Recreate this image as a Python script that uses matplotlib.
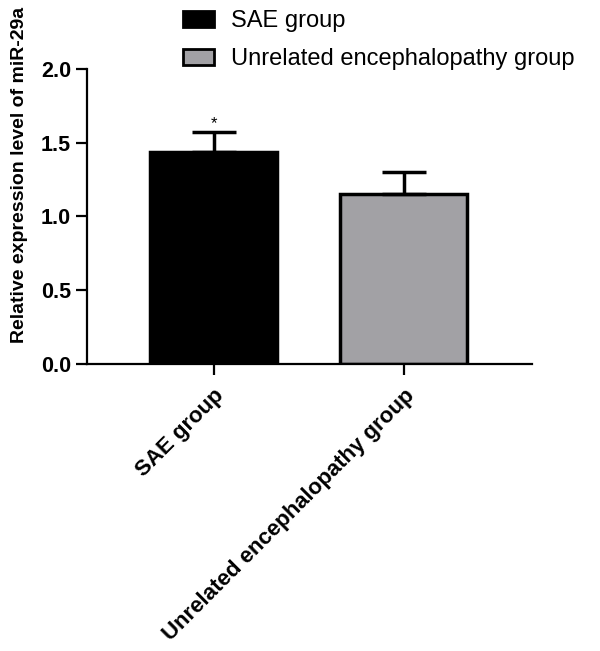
import matplotlib
matplotlib.use("Agg")
import matplotlib.pyplot as plt
from matplotlib.patches import Patch

plt.rcParams['font.family'] = ['Liberation Sans', 'DejaVu Sans']

# data
groups = ['SAE group', 'Unrelated encephalopathy group']
means = [1.44, 1.15]
errors = [0.135, 0.15]
colors = ['#000000', '#a2a1a5']

fig = plt.figure(figsize=(6.0, 6.51), dpi=100)
ax = fig.add_axes([0.145, 0.441, 0.742, 0.453])

x = [0, 1]
ax.bar(x, means, width=0.67, color=colors, edgecolor='black', linewidth=2.5,
       yerr=[[0, 0], errors], zorder=2,
       error_kw=dict(ecolor='black', elinewidth=2.5, capsize=15.5, capthick=2.5))

# significance mark
ax.text(x[0], means[0] + errors[0] + 0.005, '*', ha='center', va='bottom', fontsize=12)

ax.set_xlim(-0.666, 1.676)
ax.set_ylim(0, 2.0)
ax.set_yticks([0.0, 0.5, 1.0, 1.5, 2.0])
ax.set_yticklabels(['0.0', '0.5', '1.0', '1.5', '2.0'], fontweight='bold', fontsize=15.5)
ax.set_xticks(x)
ax.set_xticklabels(groups, rotation=45, ha='right', rotation_mode='anchor',
                   fontweight='bold', fontsize=16)

for s in ['top', 'right']:
    ax.spines[s].set_visible(False)
for s in ['left', 'bottom']:
    ax.spines[s].set_linewidth(1.6)
ax.tick_params(axis='both', width=1.6, length=8)
ax.tick_params(axis='x', pad=7)

fig.text(0.032, 1 - 175 / 651, 'Relative expression level of miR-29a', rotation=90,
         ha='center', va='center', fontweight='bold', fontsize=14)

handles = [Patch(facecolor=c, edgecolor='black', linewidth=2) for c in colors]
fig.legend(handles, groups, loc='upper left', bbox_to_anchor=(183 / 600, 1 - 10 / 651),
           frameon=False, fontsize=17, borderpad=0, borderaxespad=0,
           handlelength=1.3, handleheight=0.66,
           labelspacing=0.68, handletextpad=0.75)

fig.savefig('out.png', dpi=100)
